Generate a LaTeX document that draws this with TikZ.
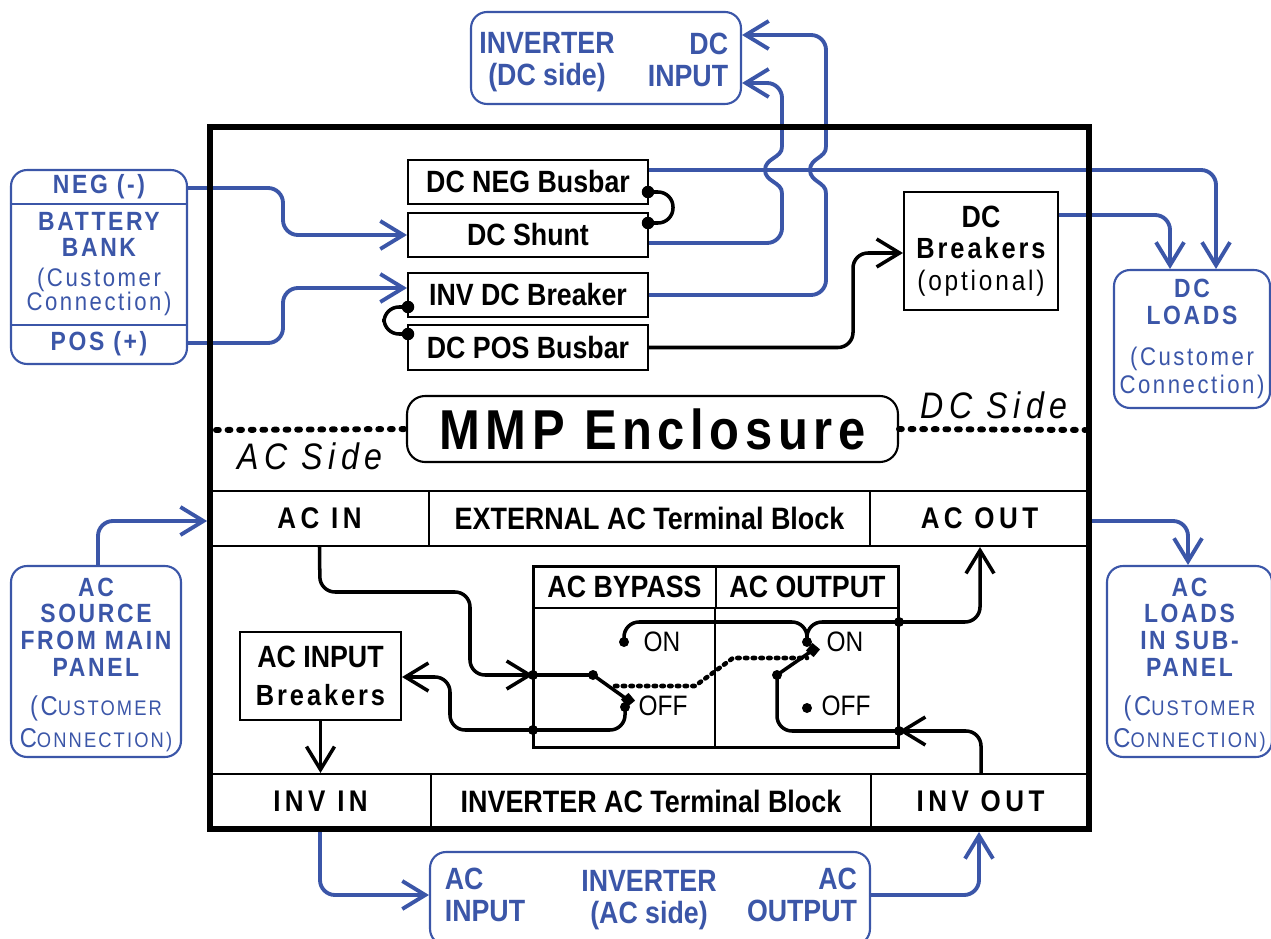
\documentclass[tikz,border=0pt]{standalone}
\usepackage{fontspec}
\setmainfont[FakeStretch=.87]{Liberation Sans}
\newfontfamily\widefont[FakeStretch=.87,LetterSpace=10]{Liberation Sans}
\newfontfamily\spacedfont[FakeStretch=.87,LetterSpace=15]{Liberation Sans}
\usetikzlibrary{arrows.meta}
\definecolor{wireblue}{HTML}{3B56A8}
\pgfdeclarelayer{background layer}
\pgfsetlayers{background layer,main}
\newcommand{\capsc}[2]{{\fontsize{15.5}{15}\selectfont #1}{\fontsize{12}{15}\selectfont #2}}
\newcommand{\brktext}{{\widefont\fontsize{16.6}{18}\selectfont Breakers}}
\tikzstyle{box}=[rectangle,draw=black,line width=1.2pt,fill=white,inner sep=0pt,align=center,font=\bfseries\fontsize{17.5}{18}\selectfont]
\tikzstyle{bus}=[box,minimum width=4.8cm,minimum height=.88cm]
\tikzstyle{cell}=[box,fill=none,minimum height=1.1cm,font=\bfseries\fontsize{17.6}{18}\selectfont]
\tikzstyle{spaced}=[font=\spacedfont\bfseries\fontsize{17}{18}\selectfont]
\tikzstyle{bluebox}=[rectangle,rounded corners=.32cm,draw=wireblue,line width=1.2pt,text=wireblue,inner sep=0pt,align=center,font=\widefont\bfseries\fontsize{15}{15.2}\selectfont]
\tikzstyle{bluetext}=[text=wireblue,inner sep=0pt,font=\bfseries\fontsize{17.5}{18.2}\selectfont]
\tikzstyle{plain}=[inner sep=0pt,font=\fontsize{16}{16}\selectfont]
\tikzstyle{sidelabel}=[font=\spacedfont\itshape\fontsize{21}{22}\selectfont]
\tikzstyle{dot}=[circle,fill=black,inner sep=0pt,minimum size=.25cm]
\tikzstyle{joint}=[dot,minimum size=.2cm]
\tikzstyle{wire}=[draw=black,line width=2pt,rounded corners=.3cm,>={Straight Barb[length=.46cm,width=.56cm]}]
\tikzstyle{bluewire}=[wire,draw=wireblue,line width=2.2pt]
\tikzstyle{jump}=[draw=wireblue,line width=2.2pt]
\tikzstyle{divide line}=[line width=3.4pt,line cap=round,dash pattern=on 1.6pt off 5pt]
\tikzstyle{dotted line}=[line width=2.6pt,line cap=round,dash pattern=on 1.4pt off 3pt]
\begin{document}
\begin{tikzpicture}[x=.02cm,y=-.02cm]
	\useasboundingbox (0,0) rectangle (1271,939);
	% enclosure
	\node (frame) at (649.5,478) [draw=black,line width=3.4pt,minimum width=17.58cm,minimum height=14.04cm] {};
	\node (mmp) at (652.5,429) [box,rounded corners=.36cm,minimum width=9.82cm,minimum height=1.32cm,font=\widefont\bfseries\fontsize{32}{32}\selectfont] {MMP Enclosure};
	\node (dcside) at (994,405) [sidelabel] {DC Side};
	\node (acside) at (310,456) [sidelabel] {AC Side};
	\coordinate (dashl) at (216,430);
	\coordinate (dashr) at (1085,430);
	\draw [divide line] (dashl)--(mmp.west);
	\draw [divide line] (mmp.east)--(dashr);
	% DC side
	\node (negbus) at (528,182) [bus] {DC NEG Busbar};
	\node (shunt) at (528,235) [bus] {DC Shunt};
	\node (invbrk) at (528,295) [bus] {INV DC Breaker};
	\node (posbus) at (528,347.5) [bus,minimum height=.9cm] {DC POS Busbar};
	\node (dcbrk) at (981,251) [box,minimum width=3.08cm,minimum height=2.36cm] {DC\\\brktext\\{\widefont\mdseries\fontsize{16}{18}\selectfont (optional)}};
	\node (negdot) at (648,192) [dot] {};
	\node (shuntdot) at (648,223) [dot] {};
	\node (brkdot) at (408,307) [dot] {};
	\node (posdot) at (408,334) [dot] {};
	% outside boxes, top and left
	\node (invdc) at (606,58) [bluebox,minimum width=5.4cm,minimum height=1.84cm] {};
	\node (invdclabel) at (547,62) [bluetext,align=center] {INVERTER\\(DC side)};
	\node (dcinput) at (688,60) [bluetext,align=right] {DC\\INPUT};
	\node (battery) at (99,267) [bluebox,minimum width=3.52cm,minimum height=3.88cm] {};
	\node (neglabel) at (99,187) [text=wireblue,font=\widefont\bfseries\fontsize{15}{15.2}\selectfont] {NEG (-)};
	\node (batlabel) at (99,264) [text=wireblue,align=center,font=\widefont\bfseries\fontsize{15}{15.2}\selectfont] {BATTERY\\BANK\\[2pt]{\mdseries\fontsize{14.5}{15}\selectfont (Customer}\\[-1.6pt]{\mdseries\fontsize{14.5}{15}\selectfont Connection)}};
	\node (poslabel) at (99,344) [text=wireblue,font=\widefont\bfseries\fontsize{15}{15.2}\selectfont] {POS (+)};
	\draw [draw=wireblue,line width=1.2pt] ([yshift=1.26cm]battery.west)--([yshift=1.26cm]battery.east);
	\draw [draw=wireblue,line width=1.2pt] ([yshift=-1.16cm]battery.west)--([yshift=-1.16cm]battery.east);
	\node (dcloads) at (1192,339) [bluebox,minimum width=3.12cm,minimum height=2.76cm] {DC\\LOADS\\[8pt]{\mdseries\fontsize{14.5}{15}\selectfont (Customer}\\[1pt]{\mdseries\fontsize{14.5}{15}\selectfont Connection)}};
	% AC side
	\node (acin) at (319.5,518.5) [cell,spaced,minimum width=4.38cm] {AC IN};
	\node (extblock) at (649.5,518.5) [cell,minimum width=8.82cm] {EXTERNAL AC Terminal Block};
	\node (acout) at (979.5,518.5) [cell,spaced,minimum width=4.38cm] {AC OUT};
	\node (invin) at (320.5,801.5) [cell,spaced,minimum width=4.42cm] {INV IN};
	\node (invblock) at (651,801.5) [cell,minimum width=8.8cm] {INVERTER AC Terminal Block};
	\node (invout) at (980.5,801.5) [cell,spaced,minimum width=4.38cm] {INV OUT};
	\node (acbrk) at (320.5,676) [box,minimum width=3.22cm,minimum height=1.76cm] {AC INPUT\\[3.5pt]\brktext};
	% transfer switch
	\node (switchbox) at (716,657) [draw=black,line width=1.7pt,minimum width=7.32cm,minimum height=3.64cm] {};
	\node (bypass) at (624.5,587) [box,fill=none,minimum width=3.66cm,minimum height=.84cm] {AC BYPASS};
	\node (output) at (807.5,587) [box,fill=none,minimum width=3.66cm,minimum height=.84cm] {AC OUTPUT};
	\draw [line width=1.2pt] (output.south west)--(output.south west |- switchbox.south);
	\node (inj) at (533,675) [joint] {};
	\node (retj) at (533,730) [joint] {};
	\node (outj) at (899,622) [joint] {};
	\node (inretj) at (899,731) [joint] {};
	\node (pivl) at (593,675) [joint] {};
	\node (pivr) at (777,675) [joint] {};
	\node (onl) at (624,642) [joint] {};
	\node (offl) at (625,707) [joint] {};
	\node (onr) at (807,642) [joint] {};
	\node (offr) at (807,708) [joint] {};
	\node (tipl) at (628,700) [rectangle,fill=black,rotate=40,inner sep=0pt,minimum size=.2cm] {};
	\node (tipr) at (813,650) [rectangle,fill=black,rotate=50,inner sep=0pt,minimum size=.2cm] {};
	\node (onltext) at (662,642) [plain] {ON};
	\node (offltext) at (663,706) [plain] {OFF};
	\node (onrtext) at (845,642) [plain] {ON};
	\node (offrtext) at (846,706) [plain] {OFF};
	\coordinate (linka) at (615,686);
	\coordinate (linkb) at (807,658);
	% outside boxes, right and bottom
	\node (acsource) at (96,661.5) [bluebox,minimum width=3.4cm,minimum height=3.82cm] {\rule{0pt}{14pt}AC\\SOURCE\\FROM MAIN\\PANEL\\[7pt]{\mdseries\capsc{(C}{USTOMER}}\\[3pt]{\mdseries\capsc{C}{ONNECTION)}}};
	\node (acloads) at (1189.5,661.5) [bluebox,minimum width=3.3cm,minimum height=3.82cm] {\rule{0pt}{14pt}AC\\LOADS\\IN SUB-\\PANEL\\[7pt]{\mdseries\capsc{(C}{USTOMER}}\\[3pt]{\mdseries\capsc{C}{ONNECTION)}}};
	\node (invac) at (650,898.5) [bluebox,minimum width=8.8cm,minimum height=1.86cm] {};
	\node (acinput) at (485,895) [bluetext,align=left] {AC\\INPUT};
	\node (invaclabel) at (649,900) [bluetext,align=center] {INVERTER\\(AC side)};
	\node (acoutput) at (802,895) [bluetext,align=right] {AC\\OUTPUT};
	% crossings
	\coordinate (shuntlow) at (782,193);
	\coordinate (shunthigh) at (782,147);
	\coordinate (brklow) at (826,193);
	\coordinate (brkhigh) at (826,147);
	\begin{pgfonlayer}{background layer}
		% blue connectors
		\draw [bluewire,->] ([yshift=1.58cm]battery.east) -- (283,188) -- (283,235) -- (shunt.west);
		\draw [bluewire,->] ([yshift=-1.52cm]battery.east) -- (283,343) -- (283,288) -- ([yshift=.14cm]invbrk.west);
		\draw [bluewire] ([yshift=-.16cm]shunt.east) -- (782,243) -- (shuntlow);
		\draw [jump] (shuntlow) .. controls (782,182) and (765,182) .. (765,170) .. controls (765,158) and (782,158) .. (shunthigh);
		\draw [bluewire,->] (shunthigh) -- (782,83) -- ([yshift=-.5cm]invdc.east);
		\draw [bluewire] (invbrk.east) -- (826,295) -- (brklow);
		\draw [jump] (brklow) .. controls (826,182) and (810,182) .. (810,170) .. controls (810,158) and (826,158) .. (brkhigh);
		\draw [bluewire,->] (brkhigh) -- (826,35) -- ([yshift=.46cm]invdc.east);
		\draw [bluewire,->] ([yshift=.24cm]negbus.east) -- (1216,170) -- (dcloads.north -| 1216,0);
		\draw [bluewire,->] ([yshift=.72cm]dcbrk.east) -- (1170,215) -- (dcloads.north -| 1170,0);
		\draw [bluewire,->] (acsource.north -| 98,0) -- (98,521) -- (frame.west |- 0,521);
		\draw [bluewire,->] (frame.east |- 0,521) -- (1188,521) -- (acloads.north -| 1188,0);
		\draw [bluewire,->] (frame.south -| 320,0) -- (320,895) -- (invac.west |- 0,895);
		\draw [bluewire,->] (invac.east |- 0,895) -- (979,895) -- (frame.south -| 979,0);
		% black connectors
		\draw [wire,->] (posbus.east) -- (853,347.5) -- (853,253) -- ([yshift=-.04cm]dcbrk.west);
		\draw [wire] (negdot.center) -- ++(25,0) |- (shuntdot.center);
		\draw [wire] (brkdot.center) -- ++(-24,0) |- (posdot.center);
		\draw [wire,->] (acin.south) -- (320,592) -- (470,592) -- (470,675) -- (inj.center);
		\draw [wire] (inj.center) -- (pivl.center);
		\draw [wire] (pivl.center) -- (tipl.center);
		\draw [wire,->] (offl.center) -- (625,730) -- (450,730) -- (450,677) -- (acbrk.east |- 0,677);
		\draw [wire] (onl.center) -- (624,622) -- (807,622) -- (onr.center);
		\draw [wire] (onr.center) -- (807,622) -- (outj.center);
		\draw [wire,->] (outj.center) -- (980,622) -- (acout.south -| 980,0);
		\draw [wire] (tipr.center) -- (pivr.center);
		\draw [wire] (pivr.center) -- (777,731) -- (inretj.center);
		\draw [wire,->] (invout.north -| 981,0) -- (981,731) -- (inretj.center);
		\draw [wire,->] (acbrk.south) -- (invin.north);
		\draw [dotted line] (linka) -- (695,686) -- (733,658) -- (linkb);
	\end{pgfonlayer}
\end{tikzpicture}
\end{document}
